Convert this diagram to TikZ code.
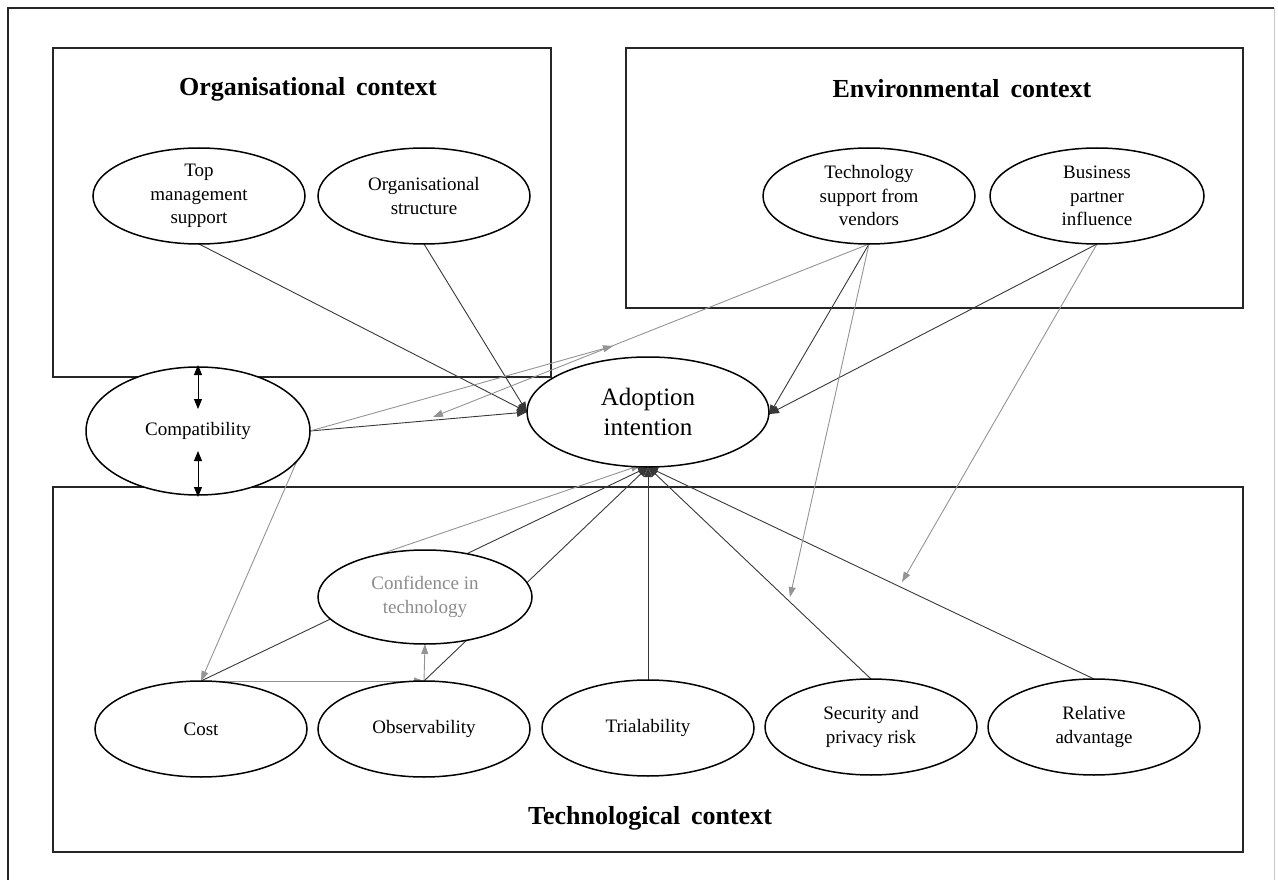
\documentclass[tikz,border=0pt]{standalone}
\usepackage{fontspec}
\setmainfont{Liberation Serif}
\usetikzlibrary{shapes.geometric,arrows.meta}
\pgfdeclarelayer{back}
\pgfsetlayers{back,main}
\begin{document}
\begin{tikzpicture}[x=1pt,y=-1pt,
  box/.style={draw=black!85,line width=1.5pt},
  ell/.style={ellipse,draw=black,line width=1.5pt,fill=white,inner sep=0pt,outer sep=0pt,
              minimum width=212pt,minimum height=96pt},
  txt/.style={align=center,inner sep=0pt,font=\fontsize{19}{23.5}\selectfont},
  gtxt/.style={txt,text=black!45},
  bigtxt/.style={align=center,inner sep=0pt,font=\fontsize{25}{30}\selectfont},
  title/.style={inner sep=0pt,font=\fontsize{26}{30}\selectfont\bfseries},
  link/.style={draw=black!78,line width=0.9pt,-{Triangle[length=10pt,width=8pt]}},
  glink/.style={draw=black!42,line width=0.9pt,-{Triangle[length=10pt,width=7pt]}},
  both/.style={draw=black,line width=1pt,{Triangle[length=10pt,width=8pt]}-{Triangle[length=10pt,width=8pt]}}
]
\useasboundingbox (0,0) rectangle (1278,880);

% outer frame
\draw[black!85,line width=1.5pt] (8,880) -- (8,8) -- (1274,8);
\draw[black!22,line width=1pt] (1274,8) -- (1274,880);

% context panels
\begin{pgfonlayer}{back}
  \draw[box] (53,48) rectangle (551,377);
  \draw[box] (626,48) rectangle (1243,308);
  \draw[box] (53,487) rectangle (1243,852);
\end{pgfonlayer}

\node[title] (orgtitle) at (308,89) {Organisational\, context};
\node[title] (envtitle) at (962,89) {Environmental\, context};
\node[title] (techtitle) at (650,818) {Technological\, context};

% constructs
\node[ell,label={[txt]center:Top\\management\\support}] (tms) at (199,196) {};
\node[ell,label={[txt]center:Organisational\\structure}] (ost) at (424,196) {};
\node[ell,label={[txt]center:Technology\\support from\\vendors}] (tsv) at (869,196) {};
\node[ell,minimum width=214pt,label={[txt]center:Business\\partner\\influence}] (bpi) at (1097,196) {};
\node[ell,minimum width=224pt,minimum height=128pt,label={[txt]center:Compatibility}] (compat) at (198,431) {};
\node[ell,minimum width=242pt,minimum height=110pt,label={[bigtxt]center:Adoption\\intention}] (ai) at (648,412) {};
\node[ell,minimum width=214pt,minimum height=94pt,label={[gtxt]center:Confidence in\\technology}] (conf) at (425,597) {};
\node[ell,label={[txt]center:Cost}] (cost) at (201,729) {};
\node[ell,label={[txt]center:Observability}] (obs) at (424,729) {};
\node[ell,label={[txt]center:Trialability}] (trial) at (648,728) {};
\node[ell,label={[txt]center:Security and\\privacy risk}] (sec) at (871,727) {};
\node[ell,label={[txt]center:Relative\\advantage}] (ra) at (1094,727) {};

% open arrow ends
\coordinate (envend) at (613,346);
\coordinate (compatend) at (433,417);
\coordinate (techend1) at (790,597);
\coordinate (techend2) at (902,582);

\begin{pgfonlayer}{back}
  % organisational factors
  \draw[link] (tms.south) -- (ai.west);
  \draw[link] (ost.south) -- (ai.west);
  \draw[link] (compat.east) -- (ai.west);
  % environmental factors
  \draw[link] (tsv.south) -- ([yshift=-3pt]ai.east);
  \draw[link] (bpi.south) -- ([yshift=-2pt]ai.east);
  % technological factors
  \draw[link] (cost.north) -- (ai.south);
  \draw[link] (obs.north) -- (ai.south);
  \draw[link] (trial.north) -- (ai.south);
  \draw[link] (sec.north) -- (ai.south);
  \draw[link] (ra.north) -- (ai.south);
  % added relations
  \draw[glink] (conf.160) -- ([xshift=-7pt,yshift=2pt]ai.south);
  \draw[glink] (compat.east) -- (envend);
  \draw[glink] (tsv.south) -- (compatend);
  \draw[glink] (tsv.south) -- (techend1);
  \draw[glink] (bpi.south) -- (techend2);
  \draw[glink] (compat.east) -- (cost.north);
  \draw[glink] (cost.north) -- (obs.north);
  \draw[glink] (obs.north) -- (conf.south);
\end{pgfonlayer}

% two-way links across the panels
\draw[both] ([yshift=2pt]compat.north) -- ++(0,44);
\draw[both] ([yshift=-2pt]compat.south) -- ++(0,-46);
\end{tikzpicture}
\end{document}
